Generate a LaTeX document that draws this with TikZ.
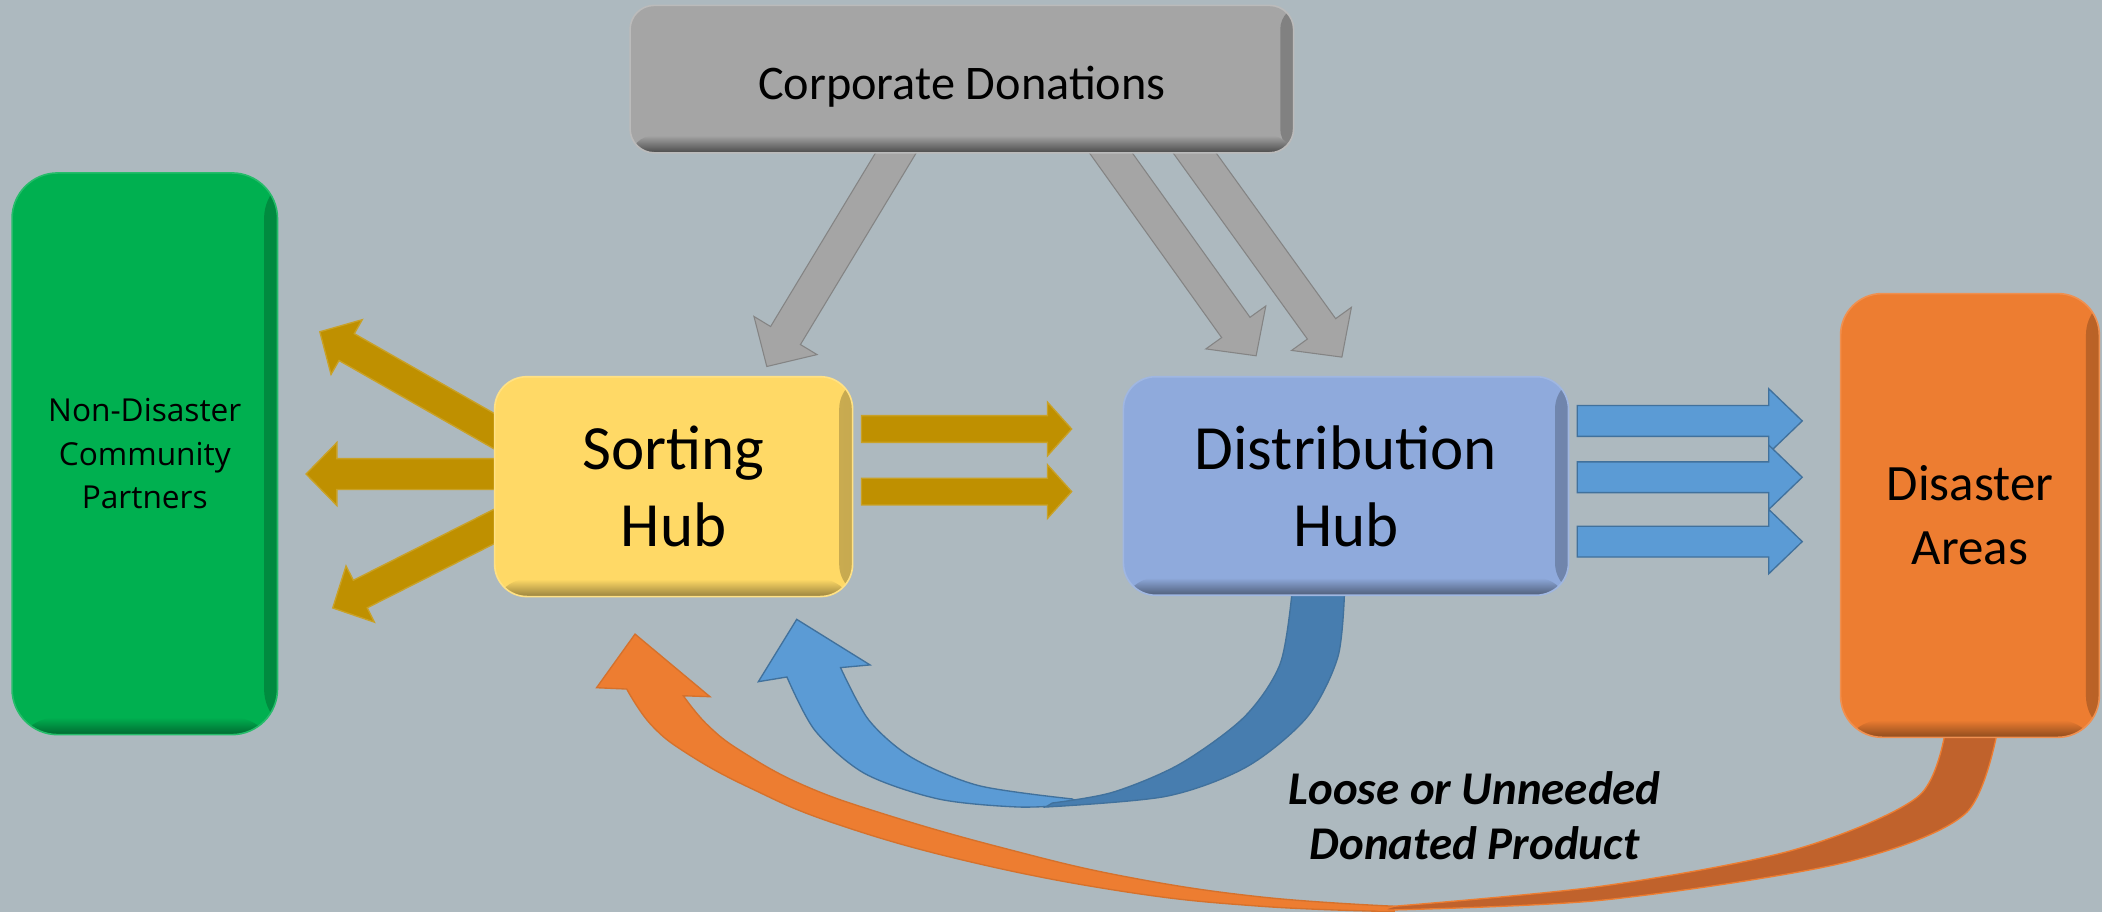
\documentclass[tikz,border=0pt]{standalone}
\usepackage{fontspec}
\setmainfont{Carlito}
\newfontfamily\osans{Open Sans}
\usetikzlibrary{calc}
\definecolor{bgc}{RGB}{173,185,191}
\definecolor{grayc}{RGB}{165,165,165}
\definecolor{greenc}{RGB}{0,176,80}
\definecolor{yellowc}{RGB}{255,217,102}
\definecolor{bluebox}{RGB}{143,170,220}
\definecolor{orangec}{RGB}{237,125,49}
\definecolor{orangedk}{RGB}{192,98,44}
\definecolor{goldc}{RGB}{191,144,0}
\definecolor{bluec}{RGB}{91,155,213}
\definecolor{bluedk}{RGB}{71,125,175}
\definecolor{blueln}{RGB}{65,113,156}
\pgfdeclarelayer{background}
\pgfdeclarelayer{arrows}
\pgfsetlayers{background,arrows,main}
\newcommand{\barrow}[6]{%
  \coordinate (tmpc) at ($(#3)!#6!(#2)$);
  \filldraw[#1] ($(#2)!#4!90:(#3)$) -- ($(tmpc)!#4!90:(#3)$) -- ($(tmpc)!#5!90:(#3)$) -- (#3)
    -- ($(tmpc)!#5!-90:(#3)$) -- ($(tmpc)!#4!-90:(#3)$) -- ($(#2)!#4!-90:(#3)$) -- cycle;}
\tikzset{
  boxbase/.style={rounded corners=#1, inner sep=0pt, align=center, line width=1.2pt},
  bev/.style 2 args={path picture={
    \shade[left color=#1, right color=#1!78!black] ([xshift=-10pt]path picture bounding box.north east) rectangle (path picture bounding box.south east);
    \shade[top color=#1, bottom color=#2] ([yshift=13pt]path picture bounding box.south west) rectangle (path picture bounding box.south east);
  }},
  goldarr/.style={fill=goldc, draw=goldc!85!white, line width=1pt},
  grayarr/.style={fill=grayc, draw=grayc!80!black, line width=0.8pt},
  bluearr/.style={fill=bluec, draw=blueln, line width=1pt},
}
\begin{document}
\begin{tikzpicture}[x=1pt, y=-1pt]
\useasboundingbox (0,0) rectangle (1568,680);
\begin{pgfonlayer}{background}
\fill[bgc] (0,0) rectangle (1568,680);
\end{pgfonlayer}

\node[boxbase=34pt, fill=greenc, draw=greenc!85!white, bev={greenc}{greenc!60!black},
  minimum width=198pt, minimum height=419pt, font=\osans\fontsize{23.6}{32.5}\selectfont]
  (partners) at (108,338.5) {Non-Disaster\\Community\\Partners};
\node[boxbase=18pt, fill=grayc, draw=grayc!75!white, bev={grayc}{grayc!45!black},
  minimum width=495pt, minimum height=110pt, font=\fontsize{36}{44}\selectfont,
  text height=31pt, text depth=0pt]
  (corp) at (717.5,59) {Corporate Donations};
\node[boxbase=24pt, fill=yellowc, draw=yellowc!80!white, bev={yellowc}{yellowc!60!black},
  minimum width=267pt, minimum height=164pt, font=\fontsize{47}{57.4}\selectfont]
  (sort) at (502.5,363) {Sorting\\Hub};
\node[boxbase=24pt, fill=bluebox, draw=bluebox!85!white, bev={bluebox}{bluebox!55!black},
  minimum width=332pt, minimum height=163pt, font=\fontsize{47}{57.4}\selectfont]
  (dist) at (1004,362.5) {Distribution\\Hub};
\node[boxbase=31pt, fill=orangec, draw=orangec!85!white, bev={orangec}{orangec!60!black},
  minimum width=193pt, minimum height=331pt, font=\fontsize{38}{47.5}\selectfont]
  (disaster) at (1469.5,384.5) {Disaster\\Areas};
\node[inner sep=0pt, align=center, font=\bfseries\itshape\fontsize{35}{41}\selectfont]
  (loose) at (1100,608.5) {Loose or Unneeded\\Donated Product};

% connector end points
\coordinate (ga1s) at ($(corp.south)+(-41.1,-14)$);
\coordinate (ga1t) at ($(sort.north)+(69.5,-7)$);
\coordinate (ga2s) at ($(corp.south)+(101.5,-14)$);
\coordinate (ga2t) at ($(dist.north)+(-67,-15)$);
\coordinate (ga3s) at ($(corp.south)+(163.9,-14)$);
\coordinate (ga3t) at ($(dist.north)+(-3,-14)$);
\coordinate (gl1s) at ($(sort.west)+(17,-31.8)$);
\coordinate (gl1t) at ($(partners.east)+(31,-91)$);
\coordinate (gl2s) at ($(sort.west)+(21,-9.4)$);
\coordinate (gl2t) at ($(partners.east)+(20.7,15.1)$);
\coordinate (gl3s) at ($(sort.west)+(17.5,21)$);
\coordinate (gl3t) at ($(partners.east)+(40.6,115)$);
\coordinate (gr1s) at ($(sort.east)+(6,-43)$);
\coordinate (gr1t) at ($(dist.west)+(-38,-42.5)$);
\coordinate (gr2s) at ($(sort.east)+(6,3.7)$);
\coordinate (gr2t) at ($(dist.west)+(-38,4.2)$);
\coordinate (b1s) at ($(dist.east)+(6,-48.5)$);
\coordinate (b1t) at ($(disaster.west)+(-28,-70.5)$);
\coordinate (b2s) at ($(dist.east)+(6,-6.5)$);
\coordinate (b2t) at ($(disaster.west)+(-28,-28.5)$);
\coordinate (b3s) at ($(dist.east)+(6,41.5)$);
\coordinate (b3t) at ($(disaster.west)+(-28,19.5)$);

\begin{pgfonlayer}{arrows}
\barrow{grayarr}{ga1s}{ga1t}{13pt}{27.5pt}{27pt}
\barrow{grayarr}{ga2s}{ga2t}{13pt}{27.5pt}{26pt}
\barrow{grayarr}{ga3s}{ga3t}{13pt}{27.5pt}{26pt}
\barrow{goldarr}{gl1s}{gl1t}{11.5pt}{23.5pt}{23pt}
\barrow{goldarr}{gl2s}{gl2t}{11.5pt}{23.5pt}{23pt}
\barrow{goldarr}{gl3s}{gl3t}{11.5pt}{23.5pt}{23pt}
\barrow{goldarr}{gr1s}{gr1t}{10pt}{20pt}{18pt}
\barrow{goldarr}{gr2s}{gr2t}{10pt}{20pt}{18pt}
\barrow{bluearr}{b1s}{b1t}{11.5pt}{24pt}{25pt}
\barrow{bluearr}{b2s}{b2t}{11.5pt}{24pt}{25pt}
\barrow{bluearr}{b3s}{b3t}{11.5pt}{24pt}{25pt}
% curved return arrow: Distribution Hub -> Sorting Hub
\filldraw[fill=bluec, draw=blueln, line width=1pt]
  (594.3,462) -- (649,496) -- (627,498)
  -- plot[smooth] coordinates {(627,498) (648,537) (680,565) (730,586) (800,596)}
  -- plot[smooth] coordinates {(805,600) (760,602) (700,596) (645,577) (608,545) (587,505)}
  -- (565.7,508.5) -- cycle;
\filldraw[fill=bluedk, draw=blueln, line width=1pt]
  plot[smooth] coordinates {(780,602) (870,594) (930,572) (975,535) (998,490) (1003,440)}
  -- (964,440)
  -- plot[smooth] coordinates {(964,440) (955,495) (928,535) (880,570) (830,591) (785,599)} -- cycle;
% curved return arrow: Disaster Areas -> Sorting Hub
\filldraw[fill=orangec, draw=orangec!90!black, line width=1pt]
  (473.7,473) -- (529.6,519.7) -- (509.7,519)
  -- plot[smooth, tension=0.7] coordinates {(509.7,519) (528,541) (554,561) (600,586) (662,608) (750,633) (840,654) (940,669) (1040,676)}
  -- plot[smooth, tension=0.7] coordinates {(1040,680) (940,676) (838,665) (720,642) (622,614) (560,588) (514,563) (486,541) (467.5,514)}
  -- (445,513) -- cycle;
\filldraw[fill=orangedk, draw=orangec, line width=1pt]
  plot[smooth] coordinates {(1030,679) (1195,671.5) (1373.5,644) (1466,607) (1491,540)}
  -- (1452,540)
  -- plot[smooth] coordinates {(1452,540) (1431,594) (1338,634) (1195,661) (1040,676)} -- cycle;
\end{pgfonlayer}
\end{tikzpicture}
\end{document}
